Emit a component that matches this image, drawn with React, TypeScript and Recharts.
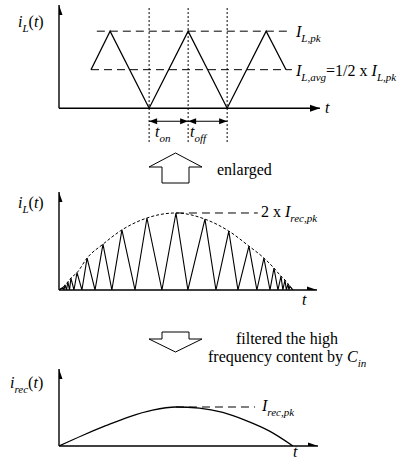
import React from "react";
import { ComposedChart, Line, XAxis, YAxis, ReferenceLine, Scatter } from "recharts";

// ---------- Panel 1: inductor current ripple (t in units of t_on, i in units of I_L,pk)
const rippleT = [0.82, 1.31, 2.31, 3.31, 4.31, 5.31, 5.82];
const rippleI = [0.5, 1, 0, 1, 0, 1, 0.5];
const switchEdges = [2.31, 3.31, 4.31];
const peakLevel = 1;
const avgLevel = 0.5;
const peakLineSpan = [0.97, 5.97];
const avgLineSpan = [0.82, 5.97];
const timingLevel = -0.17;
const rippleAxis = { tMax: 6.69, iMax: 1.34, iMin: -0.45 };

// ---------- Panel 2: inductor current over a half line cycle (t in ms, i in units of I_rec,pk)
const peakT = [0.17, 0.26, 0.38, 0.51, 0.77, 1.2, 1.88, 2.69, 3.76, 5.0, 6.24, 7.26, 8.12, 8.76, 9.19, 9.49, 9.66, 9.79, 9.87];
const peakI = [0.07, 0.13, 0.21, 0.31, 0.45, 0.83, 1.19, 1.56, 1.87, 2.0, 1.84, 1.53, 1.14, 0.83, 0.57, 0.36, 0.26, 0.16, 0.1];
const valleyT = [0.21, 0.32, 0.45, 0.64, 0.98, 1.54, 2.26, 3.25, 4.4, 5.51, 6.71, 7.65, 8.46, 9.02, 9.36, 9.57, 9.72, 9.83];
const halfCycle = 10;
const envelopePeak = 2;
const envelopeLineEnd = 8.5;
const switchingAxis = { tMax: 11.03, iMax: 2.545 };

// ---------- Panel 3: rectified input current after C_in filtering
const recT = [0, 1, 2, 3, 4, 5, 6, 7, 8, 9, 10];
const recI = [0, 0.27, 0.52, 0.75, 0.92, 1.0, 0.97, 0.86, 0.65, 0.38, 0];
const recPeak = 1;
const recPeakT = 5.0;
const recLineEnd = 8.38;
const recAxis = { tMax: 11.07, iMax: 1.975 };

const ripple = rippleT.map((t, k) => ({ t, v: rippleI[k] }));

const switching: { t: number; v: number }[] = [{ t: 0, v: 0 }];
peakT.forEach((t, k) => {
  switching.push({ t, v: peakI[k] });
  if (k < valleyT.length) switching.push({ t: valleyT[k], v: 0 });
});
switching.push({ t: halfCycle, v: 0 });

const envelope = [{ t: 0, v: 0 }, ...peakT.map((t, k) => ({ t, v: peakI[k] })), { t: halfCycle, v: 0 }];

const rectified = recT.map((t, k) => ({ t, v: recI[k] }));

const SERIF = '"Liberation Serif", "DejaVu Serif", serif';
const INK = "#000";

const UpHead = (p: any) => (
  <polygon points={`${p.cx},${p.cy} ${p.cx - 3.5},${p.cy + 10} ${p.cx + 3.5},${p.cy + 10}`} fill={INK} />
);
const RightHead = (p: any) => (
  <polygon points={`${p.cx},${p.cy} ${p.cx - 10},${p.cy - 3.5} ${p.cx - 10},${p.cy + 3.5}`} fill={INK} />
);
const SmallRight = (p: any) => (
  <polygon points={`${p.cx},${p.cy} ${p.cx - 8},${p.cy - 3} ${p.cx - 8},${p.cy + 3}`} fill={INK} />
);
const SmallLeft = (p: any) => (
  <polygon points={`${p.cx},${p.cy} ${p.cx + 8},${p.cy - 3} ${p.cx + 8},${p.cy + 3}`} fill={INK} />
);

function axes(tMax: number, iMax: number) {
  return [
    <ReferenceLine key="ax" segment={[{ x: 0, y: 0 }, { x: tMax - 2e-3, y: 0 }]} stroke={INK} strokeWidth={1.4} ifOverflow="visible" />,
    <ReferenceLine key="ay" segment={[{ x: 0, y: 0 }, { x: 0, y: iMax }]} stroke={INK} strokeWidth={1.4} ifOverflow="visible" />,
    <Scatter key="hx" data={[{ t: tMax, v: 0 }]} dataKey="v" shape={RightHead} isAnimationActive={false} />,
    <Scatter key="hy" data={[{ t: 0, v: iMax }]} dataKey="v" shape={UpHead} isAnimationActive={false} />,
  ];
}

function RipplePanel() {
  const { tMax, iMax, iMin } = rippleAxis;
  return (
    <ComposedChart width={410} height={150} margin={{ top: 5, right: 90, bottom: 7.17, left: 59 }}>
      <XAxis dataKey="t" type="number" domain={[0, tMax]} hide allowDataOverflow />
      <YAxis type="number" domain={[iMin, iMax]} hide allowDataOverflow />
      {switchEdges.map((t) => (
        <ReferenceLine key={t} segment={[{ x: t, y: iMin + 0.01 }, { x: t, y: iMax - 0.015 }]} stroke={INK} strokeWidth={1} strokeDasharray="2 2" ifOverflow="visible" />
      ))}
      <ReferenceLine segment={[{ x: peakLineSpan[0], y: peakLevel }, { x: peakLineSpan[1], y: peakLevel }]} stroke={INK} strokeWidth={1} strokeDasharray="8 5" ifOverflow="visible" />
      <ReferenceLine segment={[{ x: avgLineSpan[0], y: avgLevel }, { x: avgLineSpan[1], y: avgLevel }]} stroke={INK} strokeWidth={1} strokeDasharray="8 5" ifOverflow="visible" />
      <ReferenceLine segment={[{ x: switchEdges[0], y: timingLevel }, { x: switchEdges[2], y: timingLevel }]} stroke={INK} strokeWidth={1.2} ifOverflow="visible" />
      <Scatter data={[switchEdges[0], switchEdges[1]].map((t) => ({ t, v: timingLevel }))} dataKey="v" shape={SmallLeft} isAnimationActive={false} />
      <Scatter data={[switchEdges[1], switchEdges[2]].map((t) => ({ t, v: timingLevel }))} dataKey="v" shape={SmallRight} isAnimationActive={false} />
      <Line data={ripple} dataKey="v" type="linear" stroke={INK} strokeWidth={1.3} dot={false} isAnimationActive={false} />
      {axes(tMax, iMax)}
    </ComposedChart>
  );
}

function SwitchingPanel() {
  const { tMax, iMax } = switchingAxis;
  return (
    <ComposedChart width={410} height={125} margin={{ top: 7, right: 93, bottom: 20, left: 59 }}>
      <XAxis dataKey="t" type="number" domain={[0, tMax]} hide allowDataOverflow />
      <YAxis type="number" domain={[0, iMax]} hide allowDataOverflow />
      <ReferenceLine segment={[{ x: peakT[9], y: envelopePeak }, { x: envelopeLineEnd, y: envelopePeak }]} stroke={INK} strokeWidth={1} strokeDasharray="8 5" ifOverflow="visible" />
      <Line data={envelope} dataKey="v" type="monotone" stroke={INK} strokeWidth={1} strokeDasharray="3 2" dot={false} isAnimationActive={false} />
      <Line data={switching} dataKey="v" type="linear" stroke={INK} strokeWidth={1.1} dot={false} isAnimationActive={false} />
      {axes(tMax, iMax)}
    </ComposedChart>
  );
}

function RectifiedPanel() {
  const { tMax, iMax } = recAxis;
  return (
    <ComposedChart width={410} height={100} margin={{ top: 9, right: 92, bottom: 14, left: 59 }}>
      <XAxis dataKey="t" type="number" domain={[0, tMax]} hide allowDataOverflow />
      <YAxis type="number" domain={[0, iMax]} hide allowDataOverflow />
      <ReferenceLine segment={[{ x: recPeakT, y: recPeak }, { x: recLineEnd, y: recPeak }]} stroke={INK} strokeWidth={1} strokeDasharray="8 5" ifOverflow="visible" />
      <Line data={rectified} dataKey="v" type="monotone" stroke={INK} strokeWidth={1.3} dot={false} isAnimationActive={false} />
      {axes(tMax, iMax)}
    </ComposedChart>
  );
}

const it = { fontStyle: "italic" as const };
const txt = { fontFamily: SERIF, fontSize: 16, fill: INK };

function Annotations() {
  return (
    <svg width={410} height={463} style={{ position: "absolute", left: 0, top: 0, pointerEvents: "none" }}>
      <g style={txt}>
        {/* panel 1 */}
        <text x={18} y={27} style={txt}>
          <tspan {...it}>i</tspan>
          <tspan {...it} fontSize={11} dy={5}>L</tspan>
          <tspan dy={-5}>(</tspan>
          <tspan {...it}>t</tspan>
          <tspan>)</tspan>
        </text>
        <text x={325} y={113} style={txt} {...it}>t</text>
        <text x={296} y={37} style={txt}>
          <tspan {...it}>I</tspan>
          <tspan {...it} fontSize={11} dy={5}>L,pk</tspan>
        </text>
        <text x={296} y={76} style={txt}>
          <tspan {...it}>I</tspan>
          <tspan {...it} fontSize={11} dy={5}>L,avg</tspan>
          <tspan dy={-5}>=1/2 x </tspan>
          <tspan {...it}>I</tspan>
          <tspan {...it} fontSize={11} dy={5}>L,pk</tspan>
        </text>
        <text x={155} y={137} style={txt}>
          <tspan {...it}>t</tspan>
          <tspan {...it} fontSize={11} dy={5}>on</tspan>
        </text>
        <text x={190} y={137} style={txt}>
          <tspan {...it}>t</tspan>
          <tspan {...it} fontSize={11} dy={5}>off</tspan>
        </text>

        {/* hollow arrow: enlarged */}
        <polygon points="149,167 175.5,153 202,167 189,167 189,183 162,183 162,167" fill="#fff" stroke={INK} strokeWidth={1} />
        <text x={217} y={175} style={txt}>enlarged</text>

        {/* panel 2 */}
        <text x={18} y={208} style={txt}>
          <tspan {...it}>i</tspan>
          <tspan {...it} fontSize={11} dy={5}>L</tspan>
          <tspan dy={-5}>(</tspan>
          <tspan {...it}>t</tspan>
          <tspan>)</tspan>
        </text>
        <text x={261} y={217} style={txt}>
          <tspan>2 x </tspan>
          <tspan {...it}>I</tspan>
          <tspan {...it} fontSize={11} dy={5}>rec,pk</tspan>
        </text>
        <text x={302} y={305} style={txt} {...it}>t</text>

        {/* hollow arrow: filtered */}
        <polygon points="162,332 189,332 189,339 202,339 175.5,352 149,339 162,339" fill="#fff" stroke={INK} strokeWidth={1} />
        <text x={287} y={344} style={txt} textAnchor="middle">filtered the high</text>
        <text x={208} y={362} style={txt}>
          <tspan>frequency content by </tspan>
          <tspan {...it}>C</tspan>
          <tspan {...it} fontSize={11} dy={5}>in</tspan>
        </text>

        {/* panel 3 */}
        <text x={10} y={388} style={txt}>
          <tspan {...it}>i</tspan>
          <tspan {...it} fontSize={11} dy={5}>rec</tspan>
          <tspan dy={-5}>(</tspan>
          <tspan {...it}>t</tspan>
          <tspan>)</tspan>
        </text>
        <text x={262} y={411} style={txt}>
          <tspan {...it}>I</tspan>
          <tspan {...it} fontSize={11} dy={5}>rec,pk</tspan>
        </text>
        <text x={293} y={457} style={txt} {...it}>t</text>
      </g>
    </svg>
  );
}

export default function App() {
  return (
    <div style={{ position: "absolute", left: 0, top: 0, width: 410, height: 463, background: "#fff" }}>
      <div style={{ position: "absolute", left: 0, top: 0 }}>
        <RipplePanel />
      </div>
      <div style={{ position: "absolute", left: 0, top: 185 }}>
        <SwitchingPanel />
      </div>
      <div style={{ position: "absolute", left: 0, top: 360 }}>
        <RectifiedPanel />
      </div>
      <Annotations />
    </div>
  );
}
